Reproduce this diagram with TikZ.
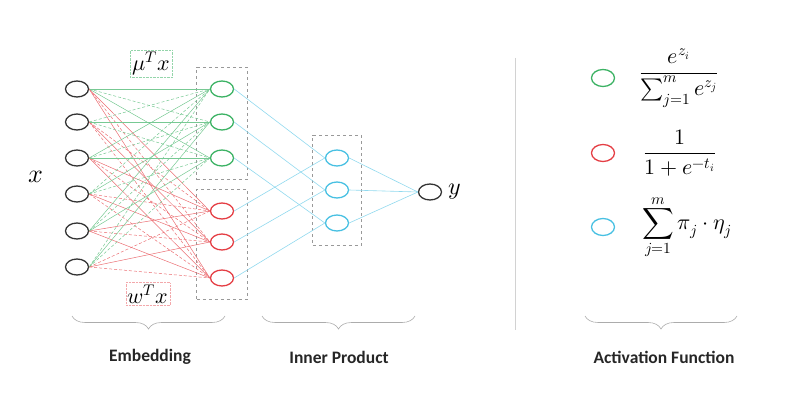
\documentclass[tikz,border=0pt]{standalone}
\usepackage{amsmath}
\usepackage{fontspec}
\usepackage{unicode-math}
\setmathfont{Latin Modern Math}
\newfontfamily\catfont{Carlito}
\usetikzlibrary{shapes.geometric,positioning,fit,decorations.pathreplacing}

\definecolor{embgreen}{RGB}{60,178,100}
\definecolor{embred}{RGB}{228,62,68}
\definecolor{prodblue}{RGB}{72,192,226}

\begin{document}
\begin{tikzpicture}[x=1pt, y=-1pt,
    unit/.style={ellipse, draw=#1, line width=1.3pt, minimum width=23pt, minimum height=16pt, inner sep=0pt},
    groupbox/.style={draw=gray!80, dashed, line width=0.8pt, inner xsep=13pt, inner ysep=13pt},
    greenedge/.style={embgreen!70, line width=0.5pt},
    rededge/.style={embred!75, line width=0.5pt},
    blueedge/.style={prodblue!60, line width=0.6pt},
    pat0/.style={},
    pat1/.style={densely dashed},
    brace/.style={gray!65, line width=0.6pt, decoration={brace, mirror, amplitude=13pt}, decorate},
    catlabel/.style={font=\catfont\bfseries\fontsize{17.5}{20}\selectfont, text=black!85},
    mathbig/.style={font=\fontsize{22}{26}\selectfont}]
    \useasboundingbox (0,0) rectangle (785,406);

    % 入力層
    \foreach \i/\yy in {1/89, 2/122, 3/158, 4/194, 5/231, 6/267}
        \node[unit=black!80] (in\i) at (77,\yy) {};
    \node[font=\fontsize{26}{30}\selectfont] (xlab) at (36,177) {$x$};

    % 埋め込み層
    \foreach \j/\yy in {1/89, 2/122, 3/158}
        \node[unit=embgreen] (g\j) at (222,\yy) {};
    \foreach \j/\yy in {1/211, 2/242, 3/278}
        \node[unit=embred] (r\j) at (222,\yy) {};
    \node[groupbox, fit=(g1)(g3)] (gbox) {};
    \node[groupbox, fit=(r1)(r3)] (rbox) {};

    \node[draw=embgreen!55, densely dotted, mathbig, inner sep=2pt] (mulab) at (151,64) {$\mu^{T}x$};
    \node[draw=embred!45, densely dotted, mathbig, inner sep=2pt] (wlab) at (148,294) {$w^{T}x$};

    % 入力 -> 埋め込み
    \foreach \i in {1,...,6}
        \foreach \j in {1,2,3} {
            \pgfmathtruncatemacro\k{mod(\i+\j,2)}
            \draw[greenedge, pat\k] (in\i.east) -- (g\j.west);
            \draw[rededge, pat\k] (in\i.east) -- (r\j.west);
        }

    % 内積層
    \foreach \j/\yy in {1/158, 2/190, 3/223}
        \node[unit=prodblue] (b\j) at (337,\yy) {};
    \node[groupbox, inner xsep=12pt, inner ysep=14pt, fit=(b1)(b3)] (bbox) {};

    \node[unit=black!80] (out) at (430,192) {};
    \node[right=3pt of out, font=\fontsize{24}{28}\selectfont] (ylab) {$y$};

    \foreach \j in {1,2,3} {
        \draw[blueedge] (g\j.east) -- (b\j.west);
        \draw[blueedge] (r\j.east) -- (b\j.west);
        \draw[blueedge] (b\j.east) -- (out.west);
    }

    % 区切り線
    \draw[gray!35, line width=0.6pt] (515,58) -- (515,330);

    % 活性化関数
    \node[unit=embgreen, minimum height=17pt] (ag) at (603,78) {};
    \node[unit=embred, minimum height=17pt] (ar) at (603,153) {};
    \node[unit=prodblue, minimum height=17pt] (ab) at (603,227) {};
    \node[right=24pt of ag, mathbig, inner sep=0pt] (fsoft) {$\dfrac{e^{z_i}}{\sum_{j=1}^{m} e^{z_j}}$};
    \node[right=28pt of ar, mathbig, inner sep=0pt] (fsig) {$\dfrac{1}{1+e^{-t_i}}$};
    \node[right=27pt of ab, mathbig, inner sep=0pt] (fsum) {$\displaystyle\sum_{j=1}^{m}\pi_j\cdot\eta_j$};

    % 括弧とラベル
    \draw[brace] (72,316) -- (225,316);
    \draw[brace] (262,316) -- (415,316);
    \draw[brace] (585,316) -- (737,316);
    \node[catlabel] (embl) at (150,357) {Embedding};
    \node[catlabel] (prodl) at (339,357) {Inner Product};
    \node[catlabel] (actl) at (664,357) {Activation Function};
\end{tikzpicture}
\end{document}
